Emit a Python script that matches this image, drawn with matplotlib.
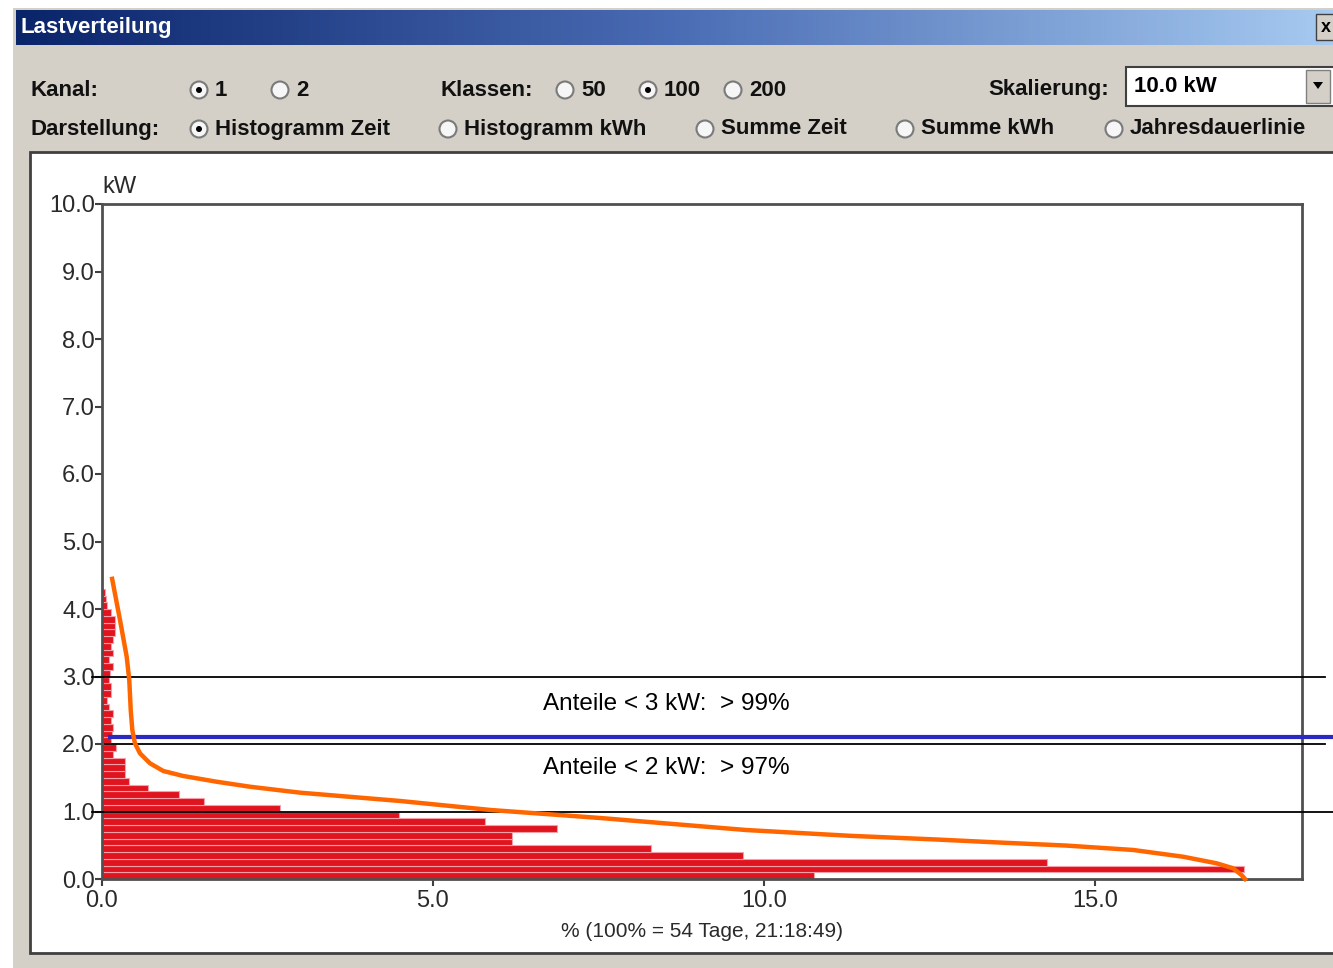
import matplotlib
matplotlib.use('Agg')
import matplotlib.pyplot as plt
import numpy as np
from matplotlib.patches import Rectangle, Circle, Polygon
from matplotlib.colors import LinearSegmentedColormap

# Klassen (Untergrenze in kW, Breite 0.1 kW) und Zeitanteile in %
klassen_kw = [0.0, 0.1, 0.2, 0.3, 0.4, 0.5, 0.6, 0.7, 0.8, 0.9,
              1.0, 1.1, 1.2, 1.3, 1.4, 1.5, 1.6, 1.7, 1.8, 1.9,
              2.0, 2.1, 2.2, 2.3, 2.4, 2.5, 2.6, 2.7, 2.8, 2.9,
              3.0, 3.1, 3.2, 3.3, 3.4, 3.5, 3.6, 3.7, 3.8, 3.9,
              4.0, 4.1, 4.2]
anteile = [10.76, 17.25, 14.27, 9.68, 8.30, 6.19, 6.19, 6.87, 5.78, 4.48,
           2.69, 1.54, 1.16, 0.70, 0.41, 0.35, 0.35, 0.35, 0.17, 0.21,
           0.13, 0.15, 0.17, 0.13, 0.17, 0.10, 0.07, 0.13, 0.13, 0.11,
           0.12, 0.17, 0.11, 0.17, 0.13, 0.17, 0.19, 0.19, 0.19, 0.13,
           0.08, 0.06, 0.04]

# von Hand eingezeichnete Kurve (orange)
kurve_x = [0.147, 0.272, 0.373, 0.412, 0.434, 0.458, 0.498, 0.574, 0.725, 0.926,
           1.228, 1.733, 2.236, 2.991, 4.502, 5.876, 7.523, 9.728, 11.299, 12.61,
           13.565, 14.573, 15.579, 16.334, 16.838, 17.089, 17.216, 17.292]
kurve_y = [4.479, 3.837, 3.293, 2.948, 2.504, 2.207, 2.010, 1.862, 1.714, 1.600,
           1.526, 1.441, 1.367, 1.279, 1.156, 1.022, 0.904, 0.726, 0.640, 0.585,
           0.540, 0.495, 0.430, 0.330, 0.233, 0.159, 0.059, -0.025]

# Grenzlinien und Beschriftung
grenzen_kw = [3.0, 2.0, 1.0]
blaue_linie_kw = 2.1
anteil_texte = ['Anteile < 3 kW:  > 99%', 'Anteile < 2 kW:  > 97%']
anteil_text_y = [2.59, 1.64]

x_ticks = [0.0, 5.0, 10.0, 15.0]
y_ticks = [0.0, 1.0, 2.0, 3.0, 4.0, 5.0, 6.0, 7.0, 8.0, 9.0, 10.0]
x_label = '% (100% = 54 Tage, 21:18:49)'

FONT = ['Liberation Sans', 'DejaVu Sans']

W, H = 1333, 968
fig = plt.figure(figsize=(W / 100, H / 100), dpi=100)
fig.patch.set_facecolor('white')

# --- Dialog drumherum (Pixelkoordinaten) ---
ui = fig.add_axes([0, 0, 1, 1], zorder=0)
ui.axis('off')
ui.add_patch(Rectangle((13, 8), W, H, facecolor='#d4d0c8', edgecolor='none', zorder=1))
grad = np.linspace(0, 1, 256).reshape(1, -1)
cmap = LinearSegmentedColormap.from_list('titel', ['#0a246a', '#4a6cb4', '#a6caf0'])
ui.imshow(grad, extent=(16, W, 45, 10), cmap=cmap, aspect='auto', zorder=2)
ui.text(20, 28, 'Lastverteilung', color='white', fontsize=16, fontweight='bold',
        family=FONT, va='center', zorder=3)
ui.add_patch(Rectangle((1316, 14), 22, 26, facecolor='#d4d0c8', edgecolor='#404040', lw=1, zorder=3))
ui.text(1321, 28, 'x', fontsize=13, fontweight='bold', family=FONT, va='center', zorder=4)

zeile1, zeile2 = 90, 129
ui_texte = [(31, zeile1, 'Kanal:'), (31, zeile2, 'Darstellung:'),
            (440, zeile1, 'Klassen:'), (988, zeile1, 'Skalierung:')]
for x, y, t in ui_texte:
    ui.text(x, y, t, fontsize=16, fontweight='bold', family=FONT, va='center',
            color='#111111', zorder=3)

radios = [(199, zeile1, '1', True), (280, zeile1, '2', False),
          (565, zeile1, '50', False), (648, zeile1, '100', True), (733, zeile1, '200', False),
          (199, zeile2, 'Histogramm Zeit', True), (448, zeile2, 'Histogramm kWh', False),
          (705, zeile2, 'Summe Zeit', False), (905, zeile2, 'Summe kWh', False),
          (1114, zeile2, 'Jahresdauerlinie', False)]
for x, y, t, sel in radios:
    ui.add_patch(Circle((x, y), 8.5, facecolor='#f6f6f6', edgecolor='#7a7a7a', lw=1.5, zorder=3))
    if sel:
        ui.add_patch(Circle((x, y), 3, facecolor='black', edgecolor='none', zorder=4))
    ui.text(x + 16, y, t, fontsize=16, fontweight='bold', family=FONT, va='center',
            color='#111111', zorder=3)

ui.add_patch(Rectangle((1126, 67), 220, 39, facecolor='white', edgecolor='#404040', lw=1.5, zorder=3))
ui.text(1134, 86, '10.0 kW', fontsize=16, fontweight='bold', family=FONT, va='center', zorder=4)
ui.add_patch(Rectangle((1306, 70), 24, 33, facecolor='#d4d0c8', edgecolor='#808080', lw=1, zorder=4))
ui.add_patch(Polygon([(1313, 82), (1323, 82), (1318, 89)], facecolor='black', zorder=5))

# Diagrammfeld
ui.add_patch(Rectangle((30, 152), W, 801, facecolor='white', edgecolor='#404040', lw=2, zorder=3))
ui.set_xlim(0, W)
ui.set_ylim(H, 0)

# --- Diagramm ---
ax = fig.add_axes([102 / W, 89 / H, 1200 / W, 675 / H], zorder=2)
ax.barh(klassen_kw, anteile, height=0.1, align='edge', color='#e0141e',
        edgecolor='#f5a0a8', linewidth=0.8)
ax.plot(kurve_x, kurve_y, color='#ff6600', lw=3.2, clip_on=False, zorder=4,
        solid_joinstyle='round', solid_capstyle='butt')

ax.plot([-0.15, 18.47], [grenzen_kw[0]] * 2, color='black', lw=1.3, clip_on=False, zorder=3)
ax.plot([0.05, 18.47], [grenzen_kw[1]] * 2, color='black', lw=1.3, clip_on=False, zorder=3)
ax.plot([-0.15, 18.8], [grenzen_kw[2]] * 2, color='black', lw=1.3, clip_on=False, zorder=3)
ax.plot([0.12, 18.8], [blaue_linie_kw] * 2, color='#2a2ac0', lw=3, clip_on=False, zorder=3)

for t, y in zip(anteil_texte, anteil_text_y):
    ax.text(6.66, y, t, fontsize=17.5, family=FONT, va='center', color='black')

ax.set_xlim(0, 18.13)
ax.set_ylim(0, 10)
ax.set_xticks(x_ticks)
ax.set_xticklabels(['%.1f' % v for v in x_ticks], family=FONT)
ax.set_yticks(y_ticks)
ax.set_yticklabels(['%.1f' % v for v in y_ticks], family=FONT)
ax.tick_params(direction='out', length=5, width=1.5, color='#404040',
               labelsize=17, labelcolor='#2a2a2a')
ax.tick_params(axis='x', pad=3)
ax.tick_params(axis='y', pad=0)
for s in ax.spines.values():
    s.set_color('#505050')
    s.set_linewidth(2)
ax.set_xlabel(x_label, fontsize=15, family=FONT, color='#2a2a2a', labelpad=7)
ax.text(0.0, 10.25, 'kW', fontsize=17, family=FONT, color='#2a2a2a', va='center')

fig.savefig('out.png', dpi=100)
